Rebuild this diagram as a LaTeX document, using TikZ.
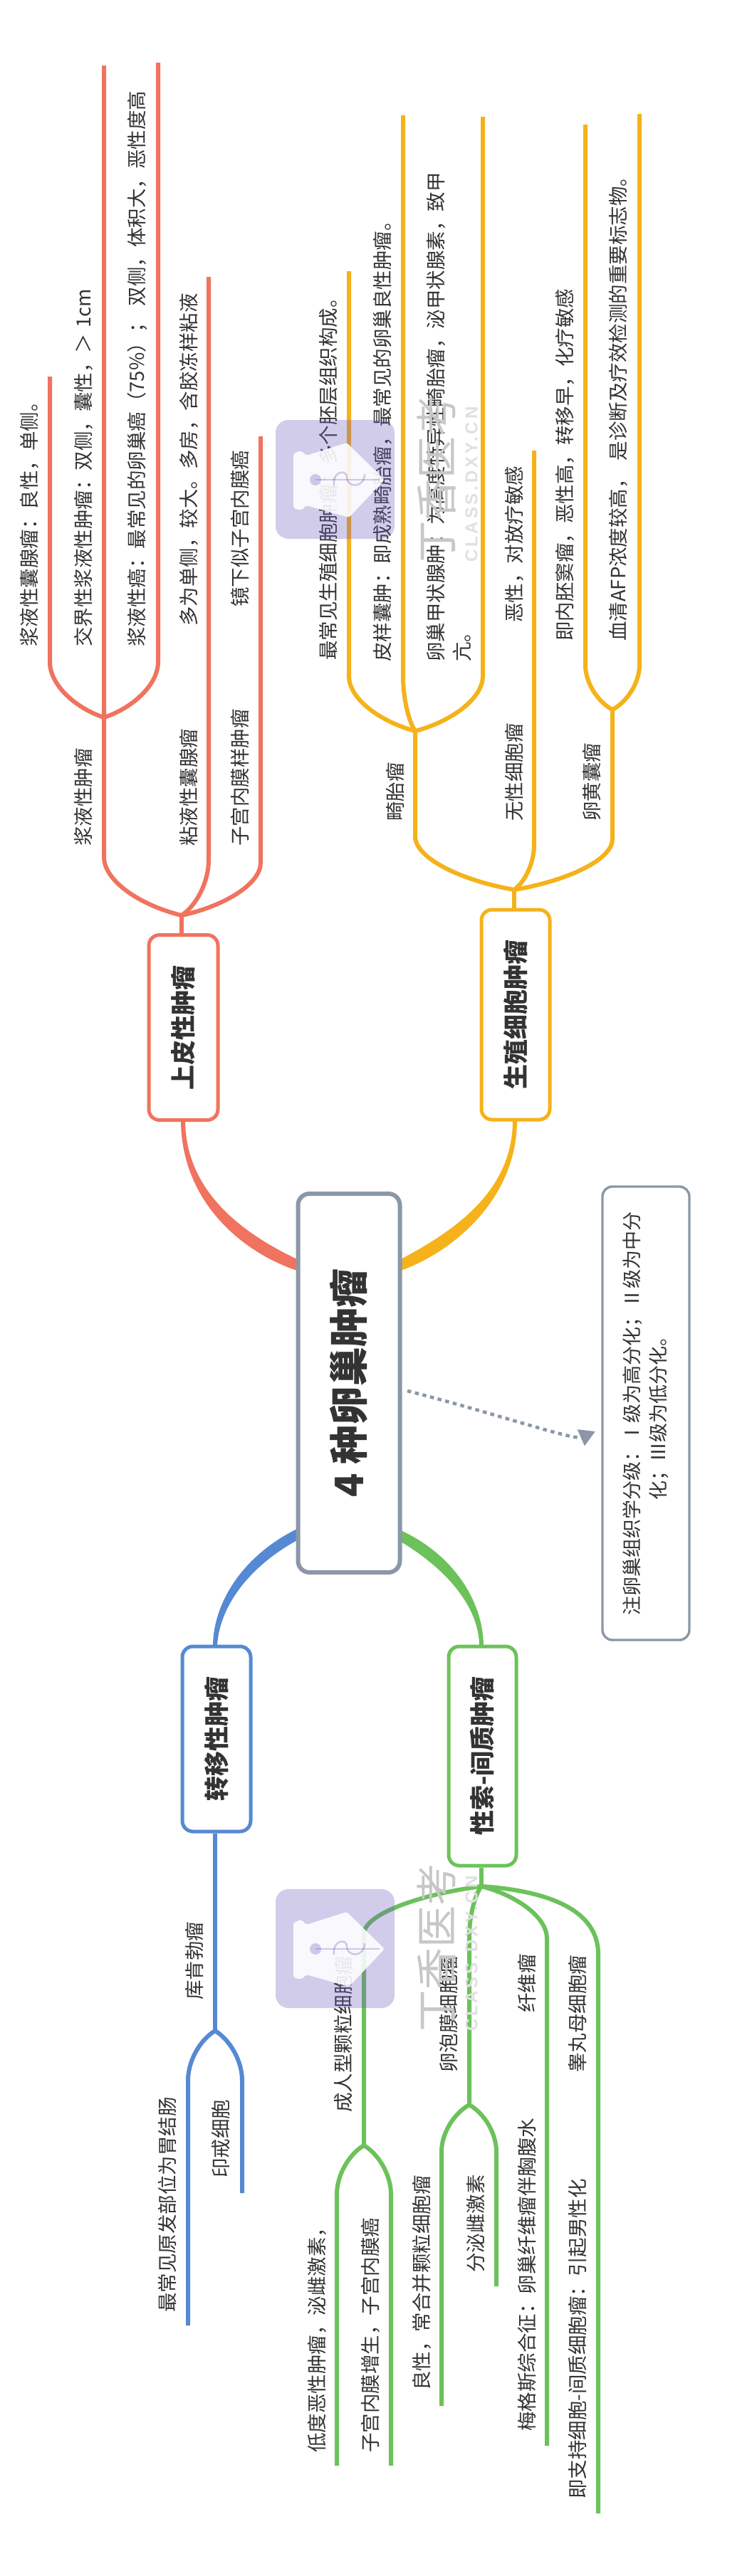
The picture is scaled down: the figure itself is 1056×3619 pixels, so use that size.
\documentclass[tikz,border=0pt]{standalone}
\usepackage{fontspec}
\setmainfont{Noto Sans CJK SC}
\newfontfamily\wmfont[LetterSpace=16]{Liberation Sans}
\usetikzlibrary{calc,arrows.meta}
\definecolor{cred}{HTML}{F0735F}
\definecolor{cyel}{HTML}{F5B21A}
\definecolor{cblu}{HTML}{5589D3}
\definecolor{cgrn}{HTML}{6CC25A}
\definecolor{cgry}{HTML}{8B97A6}
\definecolor{ctxt}{HTML}{333333}
\definecolor{cwm}{HTML}{6C58C0}
\tikzset{
  txt/.style={rotate=90,anchor=west,inner sep=0pt,text=ctxt,font=\fontsize{27.5}{37}\selectfont},
  redl/.style={draw=cred,line width=6pt},
  yell/.style={draw=cyel,line width=6pt},
  blul/.style={draw=cblu,line width=6pt},
  grnl/.style={draw=cgrn,line width=6pt},
  topic/.style={rotate=90,draw,fill=white,line width=5pt,rounded corners=15pt,inner sep=0pt,text=ctxt,font=\fontsize{35}{40}\selectfont\bfseries},
  rootbox/.style={rotate=90,draw=cgry,fill=white,line width=6pt,rounded corners=16pt,inner sep=0pt,text=ctxt,minimum width=532pt,minimum height=143pt,font=\fontsize{55}{60}\selectfont\bfseries},
  notebox/.style={rotate=90,draw=cgry,fill=white,line width=3.4pt,rounded corners=14pt,inner sep=0pt,align=center,text=ctxt,minimum width=637pt,minimum height=122pt,font=\fontsize{27}{37}\selectfont},
  dotline/.style={draw=cgry,line width=4.6pt,dash pattern=on 5.5pt off 5.5pt},
  wmcn/.style={rotate=90,anchor=west,inner sep=0pt,text=black!22,font=\fontsize{59}{60}\selectfont},
  wmen/.style={rotate=90,anchor=west,inner sep=0pt,text=black!12,font=\fontsize{24}{26}\wmfont\bfseries},
}
\newcommand\branch[4]{\draw[#1] let \p1=(#2), \p2=(#3) in (#2) .. controls ({\x1+0.55*(\x2-\x1)},{\y1+0.18*(#4pt)}) and (\x2,{\y1+0.6*(#4pt)}) .. (\x2,{\y1+(#4pt)}) -- (#3);}
\newcommand\wmark[3]{%
\begin{scope}[shift={(#1,#2)}]
  \fill[cwm,opacity=.3,rounded corners=18pt] (0,0) rectangle (167,167);
  \fill[white,opacity=.88,rounded corners=3pt] (25,47) -- (36,43) -- (43,50) -- (100,32) -- (153,84) -- (103,137) -- (43,120) -- (36,127) -- (25,124) -- cycle;
  \fill[cwm,opacity=.3] (56,84) circle (8pt);
  \draw[cwm,opacity=.3,line width=2.5pt] (56,84) -- (146,84);
  \draw[cwm,opacity=.3,line width=2.5pt] (82,92) .. controls (80,70) and (100,70) .. (100,80) .. controls (100,96) and (125,96) .. (125,76);
\end{scope}
\node[wmcn] (#3a) at (#1+226,#2+201) {丁香医考};
\node[wmen] (#3b) at (#1+275,#2+200) {CLASS.DXY.CN};
}
\begin{document}
\begin{tikzpicture}[x=1pt,y=-1pt]
\useasboundingbox (0,0) rectangle (1056,3619);
\fill[white] (0,0) rectangle (1056,3619);

% tapered links from the root
\fill[cred] (254,1573) .. controls (254,1683) and (334,1757) .. (417,1785) -- (417,1769) .. controls (346,1735) and (260,1677) .. (260,1573) -- cycle;
\fill[cyel] (726,1574) .. controls (726,1680) and (642,1756) .. (563,1785) -- (563,1769) .. controls (632,1732) and (720,1677) .. (720,1574) -- cycle;
\fill[cblu] (299,2311) .. controls (300,2252) and (340,2186) .. (417,2148) -- (417,2164) .. controls (352,2200) and (309,2254) .. (305,2311) -- cycle;
\fill[cgrn] (679,2311) .. controls (678,2252) and (640,2186) .. (563,2150) -- (563,2166) .. controls (626,2204) and (672,2256) .. (673,2311) -- cycle;

% coordinates
\coordinate (r0) at (255,1286);
\coordinate (r1) at (146,1008);
\coordinate (rt1) at (70,529);
\coordinate (rt2) at (146,92);
\coordinate (rt3) at (222,88);
\coordinate (rt4) at (293,389);
\coordinate (rt5) at (366,613);

\coordinate (y0) at (722,1250);
\coordinate (ya) at (583,1027);
\coordinate (yb) at (860,997);
\coordinate (yt1) at (490,381);
\coordinate (yt2) at (566,162);
\coordinate (yt3) at (678,164);
\coordinate (yt4) at (750,633);
\coordinate (yt5) at (822,175);
\coordinate (yt6) at (898,160);

\coordinate (b0) at (302,2853);
\coordinate (bt1) at (264,3267);
\coordinate (bt2) at (340,3081);

\coordinate (g0) at (676,2650);
\coordinate (ga) at (511,3014);
\coordinate (gb) at (659,2957);
\coordinate (gt1) at (473,3464);
\coordinate (gt2) at (549,3464);
\coordinate (gt3) at (620,3380);
\coordinate (gt4) at (697,3212);
\coordinate (gt5) at (768,3436);
\coordinate (gt6) at (840,3531);

% branch lines
\branch{redl}{r1}{rt1}{78}
\branch{redl}{r1}{rt3}{78}
\branch{redl}{r0}{rt2}{82}
\branch{redl}{r0}{rt4}{78}
\branch{redl}{r0}{rt5}{74}

\branch{yell}{y0}{ya}{75}
\branch{yell}{ya}{yt1}{77}
\branch{yell}{ya}{yt2}{77}
\branch{yell}{ya}{yt3}{77}
\branch{yell}{y0}{yt4}{63}
\branch{yell}{y0}{yb}{71}
\branch{yell}{yb}{yt5}{63}
\branch{yell}{yb}{yt6}{63}

\branch{blul}{b0}{bt1}{-70}
\branch{blul}{b0}{bt2}{-70}

\branch{grnl}{g0}{ga}{-67}
\branch{grnl}{g0}{gb}{-70}
\branch{grnl}{g0}{gt5}{-73}
\draw[grnl] (g0) .. controls (750,2655) and (840,2675) .. (840,2745) -- (gt6);
\branch{grnl}{ga}{gt1}{-69}
\branch{grnl}{ga}{gt2}{-69}
\branch{grnl}{gb}{gt3}{-66}
\branch{grnl}{gb}{gt4}{-66}

% nodes
\node[rootbox] (main) at (490,1943) {4 种卵巢肿瘤};
\node[topic,draw=cred,minimum width=260pt,minimum height=97pt] (top1) at (257.5,1443.5) {上皮性肿瘤};
\node[topic,draw=cyel,minimum width=295pt,minimum height=96pt] (top2) at (724,1425.5) {生殖细胞肿瘤};
\node[topic,draw=cblu,minimum width=260pt,minimum height=96pt] (top3) at (304,2443) {转移性肿瘤};
\node[topic,draw=cgrn,minimum width=308pt,minimum height=95pt] (top4) at (677.5,2467) {性索-间质肿瘤};
\node[notebox] (note) at (907,1985.5) {注卵巢组织学分级：Ⅰ级为高分化；Ⅱ级为中分\\化；Ⅲ级为低分化。};

% stems
\draw[redl] (top1.east -| r0) -- (r0);
\draw[yell] (top2.east -| y0) -- (y0);
\draw[blul] (top3.west -| b0) -- (b0);
\draw[grnl] (top4.west -| g0) -- (g0);

% note connector
\coordinate (as) at (572,1954);
\coordinate (ae) at (836,2011);
\draw[dotline,-{Triangle[length=22pt,width=24pt]}] (as) .. controls (690,1984) and (806,2024) .. (ae);

% texts, red
\node[txt] (a1) at (41,909) {浆液性囊腺瘤：良性，单侧。};
\node[txt] (a2) at (117,909) {交界性浆液性肿瘤：双侧，囊性，＞\kern8pt 1cm};
\node[txt] (a3) at (193,909) {浆液性癌：最常见的卵巢癌（75\%）；\kern10pt 双侧，体积大，恶性度高};
\node[txt] (a4) at (117,1189) {浆液性肿瘤};
\node[txt] (a5) at (265,880) {多为单侧，较大。多房，含胶冻样粘液};
\node[txt] (a6) at (265,1189) {粘液性囊腺瘤};
\node[txt] (a7) at (337,853) {镜下似子宫内膜癌};
\node[txt] (a8) at (337,1189) {子宫内膜样肿瘤};

% texts, yellow
\node[txt] (c1) at (461,928) {最常见生殖细胞肿瘤：多个胚层组织构成。};
\node[txt] (c2) at (537,930) {皮样囊肿：即成熟畸胎瘤，最常见的卵巢良性肿瘤。};
\node[txt,align=left] (c3) at (631,930) {卵巢甲状腺肿：为高度特异性畸胎瘤，泌甲状腺素，致甲\\亢。};
\node[txt] (c4) at (555,1154) {畸胎瘤};
\node[txt] (c5) at (722,875) {恶性，对放疗敏感};
\node[txt] (c6) at (722,1154) {无性细胞瘤};
\node[txt] (c7) at (793,901) {即内胚窦瘤，恶性高，转移早，化疗敏感};
\node[txt] (c8) at (868,901) {血清AFP浓度较高，\kern12pt 是诊断及疗效检测的重要标志物。};
\node[txt] (c9) at (831,1154) {卵黄囊瘤};

% texts, blue
\node[txt] (d1) at (273,2810) {库肯勃瘤};
\node[txt] (d2) at (235,3249) {最常见原发部位为胃结肠};
\node[txt] (d3) at (310,3060) {印戒细胞};

% texts, green
\node[txt] (e1) at (482,2968) {成人型颗粒细胞瘤};
\node[txt] (e2) at (630,2912) {卵泡膜细胞瘤};
\node[txt] (e3) at (740,2828) {纤维瘤};
\node[txt] (e4) at (811,2912) {睾丸母细胞瘤};
\node[txt] (e5) at (445,3446) {低度恶性肿瘤，泌雌激素，};
\node[txt] (e6) at (520,3446) {子宫内膜增生，子宫内膜癌};
\node[txt] (e7) at (592,3359) {良性，常合并颗粒细胞瘤};
\node[txt] (e8) at (668,3193) {分泌雌激素};
\node[txt] (e9) at (740,3416) {梅格斯综合征：卵巢纤维瘤伴胸腹水};
\node[txt] (e10) at (811,3511) {即支持细胞-间质细胞瘤：引起男性化};

% watermarks
\wmark{387}{590}{wa}
\wmark{387}{2654}{wb}
\end{tikzpicture}
\end{document}
